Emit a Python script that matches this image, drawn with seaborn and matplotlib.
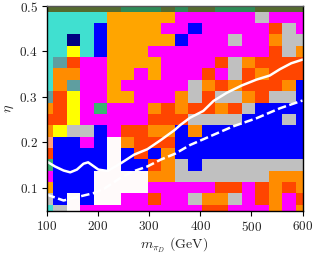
import numpy as np
import matplotlib
matplotlib.use('Agg')
import matplotlib.pyplot as plt
from matplotlib.colors import ListedColormap
import seaborn as sns

# scan grid
masses = np.linspace(100, 600, 20)
etas = np.linspace(0.5, 0.05, 19)

# best signal region per grid point, rows from eta=0.5 downwards
grid_rows = [
    "VVVVVVGGGVGVVGGGVVVV",
    "TTTTTOOOOOMMMMMMSMMM",
    "TTTTBOOOOMMBMMMMMRSM",
    "TTNTBOOOOOBMMMSMMDSS",
    "TTYTBOOOMMMMMMMMMRSD",
    "TARMMOOOOMMMMRSDRRRR",
    "TDDMMOOMOMMMRMSRDRRR",
    "TDAMMOMMMMMSDRDRRRDB",
    "ARYMMOOMMMDSRSSDRSSB",
    "DRYMEMMMDRDRRDRSBBBB",
    "RRYMMMMMRRRSSSSBBBSB",
    "DYSSBMRRDDBDBBBBBBBB",
    "LBBMBWDRRRBBBBBBBBBB",
    "RBBBBWBRBDBBBBBBBBBB",
    "EBBBBWBBRDSBSSSSSSSS",
    "MBBBWWWWDDSSSSSSSDDD",
    "OBBBWWWWMMMMMRRMRDRD",
    "SBWBWWMMRMMSDDSMRDMR",
    "TSWMMMMMMMMMRRMMMDMD",
]

codes = "TOMBNYRDASWLVGE"
colors = ['turquoise', 'orange', 'magenta', 'blue', 'navy', 'yellow', 'orangered',
          'darkorange', 'cadetblue', 'silver', 'snow', 'lightsalmon',
          'darkolivegreen', 'seagreen', 'mediumseagreen']

# exclusion limits
obs_mass = [100, 116, 133, 146, 159, 172, 181, 191, 201, 219, 245, 271, 297, 323, 350, 361,
            380, 406, 426, 452, 481, 510, 536, 556, 578, 600]
obs_eta = [0.158, 0.147, 0.138, 0.134, 0.140, 0.153, 0.156, 0.148, 0.140, 0.137, 0.154, 0.173,
           0.185, 0.205, 0.227, 0.238, 0.254, 0.269, 0.291, 0.309, 0.325, 0.338, 0.347, 0.361,
           0.374, 0.382]
exp_mass = [100, 133, 165, 191, 214, 243, 269, 297, 323, 351, 380, 425, 464, 510, 556, 600]
exp_eta = [0.085, 0.072, 0.081, 0.088, 0.099, 0.121, 0.136, 0.147, 0.162, 0.175, 0.194, 0.216,
           0.235, 0.253, 0.275, 0.292]

sns.set_style('ticks')
plt.rcParams['font.family'] = ['cmr10', 'DejaVu Sans']
plt.rcParams['mathtext.fontset'] = 'cm'
plt.rcParams['axes.formatter.use_mathtext'] = True
plt.rcParams['axes.unicode_minus'] = False

grid = np.array([[codes.index(c) for c in row] for row in grid_rows])

fig, ax = plt.subplots(figsize=(3.14, 2.54), dpi=100)
fig.subplots_adjust(left=46.7 / 314, right=302.5 / 314, top=1 - 6 / 254, bottom=1 - 210.5 / 254)

ax.pcolormesh(masses, etas, grid, shading='nearest', cmap=ListedColormap(colors),
              vmin=-0.5, vmax=len(colors) - 0.5, antialiased=True, linewidth=0)

sns.lineplot(x=obs_mass, y=obs_eta, ax=ax, color='white', lw=1.8, estimator=None, sort=False)
sns.lineplot(x=exp_mass, y=exp_eta, ax=ax, color='white', lw=1.8, estimator=None, sort=False)
ax.lines[-1].set_dashes([3.4, 1.4])

ax.set_xlim(100, 600)
ax.set_ylim(0.05, 0.5)
ax.set_xticks([100, 200, 300, 400, 500, 600])
ax.set_yticks([0.1, 0.2, 0.3, 0.4, 0.5])
ax.tick_params(labelsize=9.5, length=3.5, width=0.8, color='black', labelcolor='#222222', pad=3)
ax.set_xlabel(r'$m_{\pi_D}$ (GeV)', fontsize=10, labelpad=2)
ax.set_ylabel(r'$\eta$', fontsize=10, labelpad=2)

for name, spine in ax.spines.items():
    spine.set_color('black')
    spine.set_linewidth(1.0)
ax.spines['top'].set_color('#555555')

fig.savefig('out.png', dpi=100)
